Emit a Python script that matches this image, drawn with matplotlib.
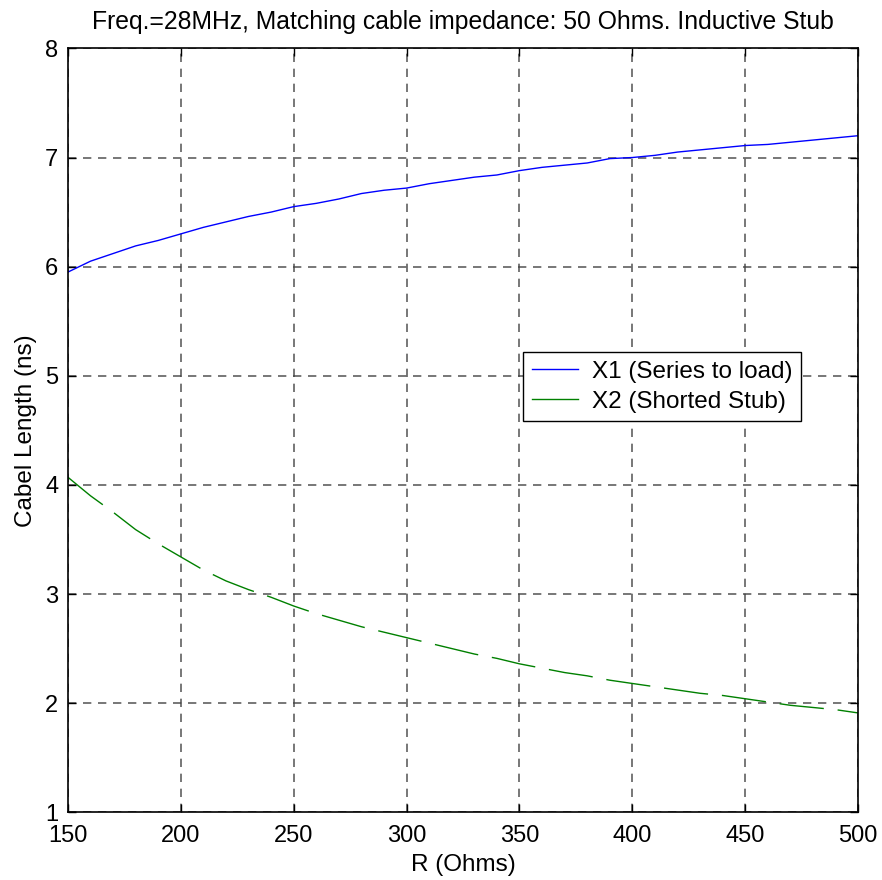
import numpy as np
import matplotlib.pyplot as plt
from matplotlib.lines import Line2D

# =========================================================
# Data
# =========================================================
r_ohms = np.arange(150, 501, 10)

x1_series = [5.95, 6.05, 6.12, 6.19, 6.24, 6.30, 6.36, 6.41, 6.46, 6.50,
             6.55, 6.58, 6.62, 6.67, 6.70, 6.72, 6.76, 6.79, 6.82, 6.84,
             6.88, 6.91, 6.93, 6.95, 6.99, 7.00, 7.02, 7.05, 7.07, 7.09,
             7.11, 7.12, 7.14, 7.16, 7.18, 7.20]

x2_stub = [4.07, 3.90, 3.75, 3.59, 3.46, 3.34, 3.22, 3.12, 3.04, 2.97,
           2.89, 2.82, 2.76, 2.70, 2.65, 2.60, 2.55, 2.50, 2.45, 2.41,
           2.36, 2.32, 2.28, 2.25, 2.21, 2.18, 2.15, 2.12, 2.09, 2.07,
           2.04, 2.01, 1.98, 1.96, 1.94, 1.91]

labels = ["X1 (Series to load)", "X2 (Shorted Stub)"]
title = "Freq.=28MHz, Matching cable impedance: 50 Ohms. Inductive Stub"

# =========================================================
# Plot
# =========================================================
plt.rcParams["font.family"] = ["Liberation Sans", "DejaVu Sans"]

fig = plt.figure(figsize=(8.82, 8.80), dpi=100)
ax = fig.add_axes([0.077, 0.077, 0.896, 0.868])

ax.plot(r_ohms, x1_series, color="#0000ff", lw=1.0)
ax.plot(r_ohms, x2_stub, color="#008000", lw=1.0, dashes=(32, 10))

ax.set_xlim(150, 500)
ax.set_ylim(1, 8)
ax.set_xticks(np.arange(150, 501, 50))
ax.set_yticks(np.arange(1, 9, 1))
ax.grid(True, color="#444444", lw=1.2, dashes=(5, 4), alpha=0.85)

ax.tick_params(direction="in", top=True, right=True, labelsize=17, length=6, width=1)
ax.tick_params(axis="x", pad=9)
ax.tick_params(axis="y", pad=7)
for s in ax.spines.values():
    s.set_linewidth(1.2)

ax.set_xlabel("R (Ohms)", fontsize=17.5, labelpad=5)
ax.set_ylabel("Cabel Length (ns)", fontsize=17.5, labelpad=6)
ax.set_title(title, fontsize=17.8, pad=14)

handles = [Line2D([], [], color="#0000ff", lw=1.0),
           Line2D([], [], color="#008000", lw=1.0)]
leg = ax.legend(handles, labels, loc="upper left", bbox_to_anchor=(0.576, 0.602),
                fontsize=17.5, frameon=True, fancybox=False, edgecolor="black",
                framealpha=1, borderpad=0.35, labelspacing=0.32, handlelength=1.9,
                handletextpad=0.6, borderaxespad=0)
leg.get_frame().set_linewidth(1.0)

plt.savefig("out.png", dpi=100)
